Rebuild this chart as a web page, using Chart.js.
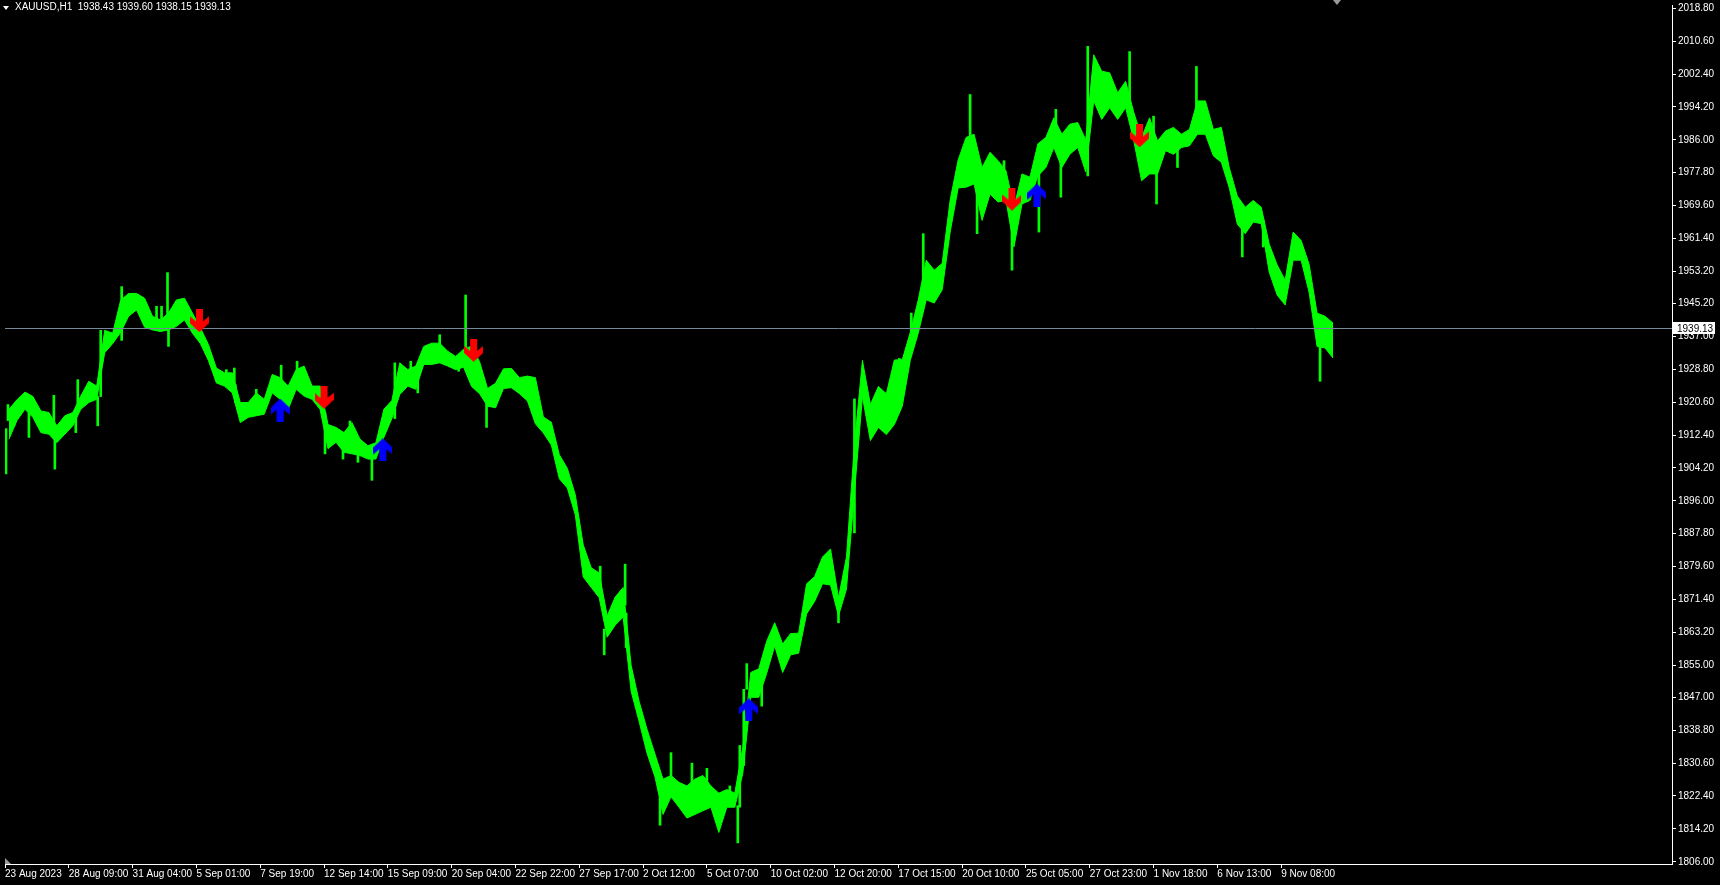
<!DOCTYPE html>
<html>
<head>
<meta charset="utf-8">
<title>XAUUSD,H1</title>
<script src="https://cdn.jsdelivr.net/npm/chart.js@4.4.0/dist/chart.umd.min.js"></script>
<style>
    html, body { margin: 0; padding: 0; background: #000; overflow: hidden; }
    #wrap { position: relative; width: 1720px; height: 885px; }
    #chart { display: block; background: #000; }
    #title { position: absolute; left: 0; top: 0; height: 14px; color: #fff;
             font: 10px "Liberation Sans", Arial, sans-serif; line-height: 14px; white-space: pre; }
    #title .tri { position: absolute; left: 3px; top: 6px; width: 0; height: 0;
                  border-left: 3px solid transparent; border-right: 3px solid transparent; border-top: 4px solid #fff; }
    #title .txt { position: absolute; left: 15px; top: 0; }
</style>
</head>
<body>
<div id="wrap">
    <canvas id="chart" width="1720" height="885"></canvas>
    <div id="title"><span class="tri"></span><span class="txt" id="titleText"></span></div>
</div>
<script>
// XAUUSD H1. band: each point = 8 hourly bars (upper / lower edge of the bars),
// spikes: single bars sticking out of the band
var symbol = "XAUUSD,H1";
var lastBar = [1938.43, 1939.60, 1938.15, 1939.13]; // open high low close
var barsPerPoint = 8;

var highs = [
    1918.8, 1921.2, 1923.1, 1922.0, 1918.4, 1918.0, 1914.7, 1917.2, 1918.0, 1922.1,
    1925.8, 1924.6, 1938.5, 1937.8, 1946.0, 1947.7, 1947.7, 1946.5, 1942.0, 1941.1,
    1942.8, 1946.1, 1946.5, 1942.8, 1939.1, 1935.0, 1929.1, 1927.9, 1927.9, 1920.5,
    1920.5, 1922.9, 1921.3, 1927.5, 1926.7, 1924.6, 1928.7, 1929.6, 1924.6, 1924.6,
    1915.0, 1914.3, 1913.0, 1915.5, 1911.4, 1909.7, 1910.5, 1918.8, 1921.0, 1930.4,
    1928.7, 1929.6, 1934.5, 1935.3, 1935.3, 1933.3, 1932.0, 1933.8, 1934.6, 1930.7,
    1924.0, 1925.3, 1928.9, 1929.0, 1926.7, 1927.1, 1926.7, 1916.9, 1915.6, 1907.5,
    1904.1, 1897.5, 1885.0, 1879.3, 1878.0, 1867.3, 1872.0, 1874.4, 1855.0, 1846.0,
    1839.0, 1832.8, 1826.6, 1827.5, 1825.8, 1824.9, 1826.6, 1827.5, 1824.9, 1823.1,
    1824.0, 1823.1, 1834.5, 1853.2, 1854.1, 1861.0, 1865.6, 1860.3, 1862.9, 1863.0,
    1875.3, 1877.1, 1882.0, 1884.0, 1871.8, 1882.0, 1910.0, 1931.0, 1920.0, 1924.5,
    1922.7, 1931.1, 1931.2, 1938.0, 1946.1, 1956.0, 1953.5, 1955.2, 1971.0, 1981.0,
    1986.6, 1987.4, 1979.1, 1982.9, 1980.8, 1978.3, 1969.2, 1977.5, 1976.7, 1985.0,
    1986.6, 1991.5, 1987.4, 1989.9, 1990.3, 1986.0, 2007.2, 2003.1, 2002.7, 1997.7,
    2000.6, 1993.0, 1986.6, 1991.5, 1985.7, 1988.2, 1989.1, 1987.4, 1988.6, 1995.7,
    1995.7, 1988.6, 1989.1, 1979.0, 1972.0, 1969.2, 1970.9, 1969.2, 1960.0, 1954.8,
    1951.0, 1963.0, 1960.9, 1955.0, 1942.8, 1942.0, 1940.3
];
var lows = [
    1911.4, 1916.0, 1918.8, 1916.8, 1913.0, 1912.6, 1910.5, 1912.6, 1914.7, 1918.8,
    1920.5, 1921.3, 1932.9, 1935.2, 1938.0, 1942.0, 1943.6, 1939.3, 1938.6, 1938.2,
    1938.6, 1939.5, 1941.1, 1937.8, 1935.2, 1931.0, 1925.4, 1924.6, 1922.9, 1915.5,
    1916.8, 1917.2, 1917.6, 1922.9, 1921.3, 1918.8, 1923.8, 1922.1, 1921.3, 1918.8,
    1909.0, 1910.6, 1908.1, 1907.7, 1907.3, 1906.4, 1906.4, 1911.8, 1916.5, 1922.5,
    1924.6, 1923.8, 1930.0, 1930.0, 1930.4, 1929.6, 1928.7, 1929.3, 1924.5, 1922.7,
    1919.6, 1919.2, 1924.0, 1924.2, 1922.7, 1920.9, 1915.2, 1912.9, 1909.9, 1901.5,
    1899.2, 1892.5, 1877.0, 1874.4, 1871.8, 1862.0, 1865.0, 1867.0, 1848.5, 1841.0,
    1833.0, 1827.1, 1817.8, 1822.2, 1819.6, 1816.9, 1817.8, 1818.7, 1819.6, 1813.3,
    1819.6, 1819.6, 1828.0, 1847.0, 1847.0, 1853.0, 1859.8, 1853.2, 1857.6, 1858.0,
    1867.8, 1870.9, 1875.3, 1875.0, 1867.3, 1874.0, 1898.0, 1922.0, 1911.0, 1914.3,
    1912.5, 1915.0, 1919.6, 1931.0, 1937.8, 1946.1, 1945.3, 1948.6, 1963.0, 1974.0,
    1974.2, 1975.0, 1965.9, 1972.5, 1970.5, 1970.9, 1959.3, 1970.0, 1970.9, 1977.0,
    1979.1, 1984.1, 1979.1, 1982.4, 1984.1, 1978.0, 1995.7, 1991.1, 1994.0, 1991.1,
    1994.0, 1986.0, 1975.8, 1977.5, 1977.5, 1983.3, 1982.4, 1984.1, 1984.5, 1987.4,
    1987.4, 1982.0, 1980.4, 1974.0, 1965.0, 1962.6, 1965.5, 1965.1, 1953.0, 1947.3,
    1944.8, 1956.0, 1956.0, 1948.0, 1934.5, 1934.1, 1931.6
];

var spikeBars = [
    1, 3, 9, 24, 49, 50, 71, 73, 93, 96,
    117, 152, 157, 163, 164, 222, 230, 231, 252, 277,
    293, 321, 339, 346, 354, 368, 391, 407, 414, 436,
    455, 462, 483, 597, 601, 622, 623, 657, 668, 689,
    704, 727, 735, 737, 741, 744, 759, 836, 852, 897,
    909, 921, 968, 975, 1002, 1010, 1037, 1054, 1059, 1086,
    1128, 1152, 1155, 1176, 1195, 1241, 1262, 1319
];
var spikeLows = [
    1902.7, 1916.0, 1914.7, 1911.8, 1912.0, 1903.9, 1913.0, 1920.0, 1914.7, 1922.0,
    1936.0, 1940.0, 1940.0, 1940.0, 1934.5, 1926.0, 1925.0, 1920.5, 1920.0, 1924.0,
    1926.0, 1907.7, 1906.4, 1912.0, 1905.6, 1901.1, 1916.5, 1926.0, 1922.9, 1932.0,
    1928.3, 1931.0, 1914.3, 1874.0, 1857.6, 1870.0, 1859.4, 1815.1, 1825.0, 1824.0,
    1824.0, 1822.0, 1810.7, 1819.6, 1830.0, 1849.0, 1844.8, 1865.6, 1888.0, 1926.0,
    1934.0, 1950.0, 1982.0, 1962.6, 1975.0, 1953.5, 1963.0, 1987.0, 1971.7, 1977.0,
    1995.0, 1984.0, 1970.0, 1979.1, 1990.0, 1956.8, 1959.3, 1925.8
];
var spikeHighs = [
    1914.0, 1920.0, 1918.0, 1918.0, 1922.3, 1912.0, 1917.0, 1926.2, 1922.0, 1938.5,
    1949.4, 1944.5, 1944.5, 1952.9, 1940.0, 1928.7, 1929.1, 1925.0, 1923.8, 1929.8,
    1930.8, 1918.0, 1911.0, 1915.9, 1909.0, 1908.0, 1930.4, 1930.8, 1926.0, 1937.4,
    1930.0, 1947.3, 1921.0, 1879.7, 1864.0, 1880.2, 1868.0, 1822.0, 1833.2, 1830.6,
    1829.3, 1824.9, 1820.0, 1835.0, 1849.0, 1855.4, 1850.0, 1869.0, 1921.4, 1931.5,
    1942.8, 1962.6, 1997.3, 1976.0, 1980.8, 1964.0, 1978.0, 1993.6, 1981.0, 2009.3,
    2008.0, 1991.9, 1980.0, 1985.0, 2004.3, 1965.0, 1966.0, 1937.0
];

// signal arrows: bar number and price
var upArrowBars = [276, 379, 746, 1035];
var upArrowPrices = [1918.6, 1908.7, 1843.9, 1972.2];
var downArrowBars = [195, 320, 470, 1010, 1138];
var downArrowPrices = [1940.9, 1921.8, 1933.5, 1971.2, 1987.0];

// axis labels
var timeTickBars = [0, 64, 128, 192, 256, 320, 384, 448, 512, 576, 640, 704, 768, 832, 896, 960, 1024, 1088, 1152, 1216, 1280];
var timeTickLabels = ["23 Aug 2023", "28 Aug 09:00", "31 Aug 04:00", "5 Sep 01:00", "7 Sep 19:00", "12 Sep 14:00",
    "15 Sep 09:00", "20 Sep 04:00", "22 Sep 22:00", "27 Sep 17:00", "2 Oct 12:00", "5 Oct 07:00", "10 Oct 02:00",
    "12 Oct 20:00", "17 Oct 15:00", "20 Oct 10:00", "25 Oct 05:00", "27 Oct 23:00", "1 Nov 18:00", "6 Nov 13:00", "9 Nov 08:00"];
var priceTicks = [2018.80, 2010.60, 2002.40, 1994.20, 1986.00, 1977.80, 1969.60, 1961.40, 1953.20, 1945.20, 1937.00,
    1928.80, 1920.60, 1912.40, 1904.20, 1896.00, 1887.80, 1879.60, 1871.40, 1863.20, 1855.00, 1847.00, 1838.80,
    1830.60, 1822.40, 1814.20, 1806.00];

var priceMin = 1805.44;
var priceMax = 2019.62;
var visibleBars = 1672;
var shiftBar = 1336;

var fontFamily = '"Liberation Sans", Arial, sans-serif';
var fontSize = 10;
var green = "#00ff00";

document.getElementById("titleText").textContent = symbol + "  " + lastBar.map(function (v) { return v.toFixed(2); }).join(" ");

function makeArrow(color, up) {
    var c = document.createElement("canvas");
    c.width = 19;
    c.height = 23;
    var g = c.getContext("2d");
    g.fillStyle = color;
    if (up) {
        g.translate(0, 23);
        g.scale(1, -1);
    }
    g.fillRect(6, 0, 7, 16);
    g.beginPath();
    g.moveTo(0, 7);
    g.lineTo(9.5, 15);
    g.lineTo(19, 7);
    g.lineTo(19, 14);
    g.lineTo(9.5, 23);
    g.lineTo(0, 14);
    g.closePath();
    g.fill();
    return c;
}

function toPoints(values) {
    return values.map(function (v, i) {
        return { x: i * barsPerPoint + barsPerPoint / 2, y: v };
    });
}

function toArrowPoints(bars, prices) {
    return bars.map(function (b, i) {
        return { x: b, y: prices[i] };
    });
}

function toSpikes() {
    return spikeBars.map(function (b, i) {
        return { x: b, y: [spikeLows[i], spikeHighs[i]] };
    });
}

var chartChrome = {
    id: "chartChrome",
    afterDatasetDraw: function (chart, args) {
        if (args.index !== 0) return;
        // bid line over the bars, under the arrows
        var ctx = chart.ctx;
        var area = chart.chartArea;
        var y = Math.round(chart.scales.y.getPixelForValue(lastBar[3])) + 0.5;
        ctx.save();
        ctx.strokeStyle = "#778899";
        ctx.lineWidth = 1;
        ctx.beginPath();
        ctx.moveTo(area.left, y);
        ctx.lineTo(area.right, y);
        ctx.stroke();
        ctx.restore();
    },
    afterDraw: function (chart) {
        var ctx = chart.ctx;
        var area = chart.chartArea;
        var y = Math.round(chart.scales.y.getPixelForValue(lastBar[3]));
        ctx.save();
        // price tag on the axis
        ctx.fillStyle = "#ffffff";
        ctx.fillRect(area.right + 1, y - 6, 42, 12);
        ctx.fillStyle = "#000000";
        ctx.font = fontSize + "px " + fontFamily;
        ctx.textBaseline = "middle";
        ctx.textAlign = "left";
        ctx.fillText(lastBar[3].toFixed(2), area.right + 5, y + 1);
        // shift marker and scroll marker
        var sx = Math.round(chart.scales.x.getPixelForValue(shiftBar));
        ctx.fillStyle = "#9a9a9a";
        ctx.beginPath();
        ctx.moveTo(sx - 4, 0);
        ctx.lineTo(sx + 4, 0);
        ctx.lineTo(sx, 5);
        ctx.closePath();
        ctx.fill();
        ctx.beginPath();
        ctx.moveTo(area.left, area.bottom - 6);
        ctx.lineTo(area.left + 6, area.bottom);
        ctx.lineTo(area.left, area.bottom);
        ctx.closePath();
        ctx.fill();
        ctx.restore();
    }
};

var ctx = document.getElementById("chart").getContext("2d");
var chart = new Chart(ctx, {
    type: "line",
    data: {
        datasets: [{
            label: "High",
            data: toPoints(highs),
            borderColor: green,
            backgroundColor: green,
            borderWidth: 1,
            pointRadius: 0,
            fill: "+1",
            order: 3
        }, {
            label: "Low",
            data: toPoints(lows),
            borderColor: green,
            backgroundColor: green,
            borderWidth: 1,
            pointRadius: 0,
            fill: false,
            order: 3
        }, {
            label: "Spikes",
            type: "bar",
            data: toSpikes(),
            backgroundColor: green,
            borderWidth: 0,
            barThickness: 2,
            grouped: false,
            order: 3
        }, {
            label: "Buy",
            data: toArrowPoints(upArrowBars, upArrowPrices),
            showLine: false,
            pointStyle: makeArrow("#0000ff", true),
            order: 1
        }, {
            label: "Sell",
            data: toArrowPoints(downArrowBars, downArrowPrices),
            showLine: false,
            pointStyle: makeArrow("#ff0000", false),
            order: 1
        }]
    },
    options: {
        responsive: false,
        animation: false,
        events: [],
        layout: { padding: 0 },
        plugins: {
            legend: { display: false },
            tooltip: { enabled: false },
            title: { display: false }
        },
        scales: {
            x: {
                type: "linear",
                min: 0,
                max: visibleBars,
                offset: false,
                grid: { offset: false, drawOnChartArea: false, drawTicks: true, tickLength: 4, color: "#ffffff" },
                border: { display: true, color: "#ffffff", width: 1 },
                ticks: {
                    color: "#ffffff",
                    font: { family: fontFamily, size: fontSize },
                    align: "start",
                    padding: 0,
                    autoSkip: false,
                    maxRotation: 0,
                    minRotation: 0,
                    callback: function (value, index) {
                        return timeTickLabels[index];
                    }
                },
                afterBuildTicks: function (scale) {
                    scale.ticks = timeTickBars.map(function (b) { return { value: b }; });
                },
                afterFit: function (scale) {
                    scale.height = 21;
                    scale.paddingLeft = 0;
                    scale.paddingRight = 0;
                }
            },
            y: {
                type: "linear",
                position: "right",
                min: priceMin,
                max: priceMax,
                grid: { drawOnChartArea: false, drawTicks: true, tickLength: 4, color: "#ffffff" },
                border: { display: true, color: "#ffffff", width: 1 },
                ticks: {
                    color: "#ffffff",
                    font: { family: fontFamily, size: fontSize },
                    padding: 2,
                    autoSkip: false,
                    crossAlign: "near",
                    callback: function (value) {
                        return value.toFixed(2);
                    }
                },
                afterBuildTicks: function (scale) {
                    scale.ticks = priceTicks.map(function (p) { return { value: p }; });
                },
                afterFit: function (scale) {
                    scale.width = 48;
                    scale.paddingTop = 0;
                    scale.paddingBottom = 0;
                }
            }
        }
    },
    plugins: [chartChrome]
});
</script>
</body>
</html>
